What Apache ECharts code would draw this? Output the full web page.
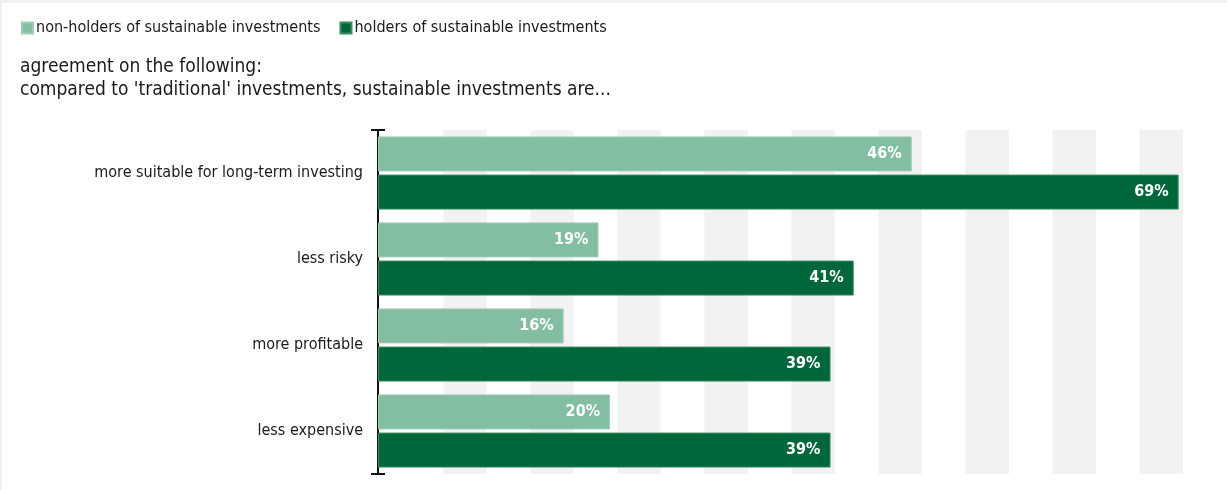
<!DOCTYPE html>
<html>
<head>
<meta charset="utf-8">
<script src="https://cdn.jsdelivr.net/npm/echarts@6/dist/echarts.min.js"></script>
<style>
  html, body { margin: 0; padding: 0; background: #fff; }
  #frame { position: absolute; left: 0; top: 0; width: 1227px; height: 490px; box-sizing: border-box;
           border-top: 3px solid #f0f0f0; border-left: 2px solid #f0f0f0; }
  #chart { position: absolute; left: 0; top: 0; width: 1227px; height: 490px; }
</style>
</head>
<body>
<div id="frame"></div>
<div id="chart"></div>
<script>
// Survey statements (top to bottom)
const categories = [
  'more suitable for long-term investing',
  'less risky',
  'more profitable',
  'less expensive'
];
const seriesNames = ['non-holders of sustainable investments', 'holders of sustainable investments'];
const nonHolders = [46, 19, 16, 20];
const holders = [69, 41, 39, 39];
// Background column stripes (centre positions in %, and half width)
const stripeCenters = [7.5, 15, 22.5, 30, 37.5, 45, 52.5, 60, 67.5];
const stripeHalf = 1.875;
const axisMax = 69.375;

const FONT = '"Liberation Sans Narrow", "DejaVu Sans Condensed", "Noto Sans", sans-serif';
const chart = echarts.init(document.getElementById('chart'), null, { renderer: 'canvas' });

const stripes = stripeCenters.map(c => [{ xAxis: c - stripeHalf }, { xAxis: c + stripeHalf }]);

const labelStyle = {
  show: true,
  position: 'insideRight',
  distance: 10,
  color: '#ffffff',
  fontWeight: 'bold',
  fontSize: 16,
  fontFamily: '"DejaVu Sans Condensed", "Liberation Sans", sans-serif',
  formatter: p => p.value + '%'
};

chart.setOption({
  animation: false,
  backgroundColor: 'transparent',
  title: {
    text: 'agreement on the following:\ncompared to \'traditional\' investments, sustainable investments are...',
    left: 20,
    top: 56,
    padding: 0,
    textStyle: { fontFamily: FONT, fontSize: 19, fontWeight: 'normal', color: '#1a1a1a', lineHeight: 23 }
  },
  legend: {
    left: 16,
    top: 15,
    itemWidth: 11,
    itemHeight: 11,
    itemGap: 19,
    icon: 'rect',
    textStyle: { fontFamily: FONT, fontSize: 16, color: '#1a1a1a', padding: [0, 0, 0, -2] },
    data: seriesNames
  },
  grid: { left: 378, right: 44, top: 130, bottom: 16 },
  xAxis: {
    type: 'value',
    min: 0,
    max: axisMax,
    axisLine: { show: false },
    axisTick: { show: false },
    axisLabel: { show: false },
    splitLine: { show: false }
  },
  yAxis: {
    type: 'category',
    inverse: true,
    data: categories,
    axisLine: {
      show: true,
      lineStyle: { color: '#111', width: 2 },
      symbol: ['rect', 'rect'],
      symbolSize: [14, 2]
    },
    axisTick: { show: false },
    axisLabel: { fontFamily: FONT, fontSize: 16, color: '#1a1a1a', margin: 15 }
  },
  series: [
    {
      name: seriesNames[0],
      type: 'bar',
      data: nonHolders,
      barWidth: 35,
      barGap: '9%',
      itemStyle: { color: '#84bea2', borderColor: '#9fcdb7', borderWidth: 1 },
      label: labelStyle,
      z: 3,
      markArea: {
        silent: true,
        z: 1,
        itemStyle: { color: '#f2f2f2' },
        data: stripes
      }
    },
    {
      name: seriesNames[1],
      type: 'bar',
      data: holders,
      barWidth: 35,
      itemStyle: { color: '#00673b', borderColor: '#3b8d64', borderWidth: 1 },
      label: labelStyle,
      z: 3
    }
  ]
});
</script>
</body>
</html>
